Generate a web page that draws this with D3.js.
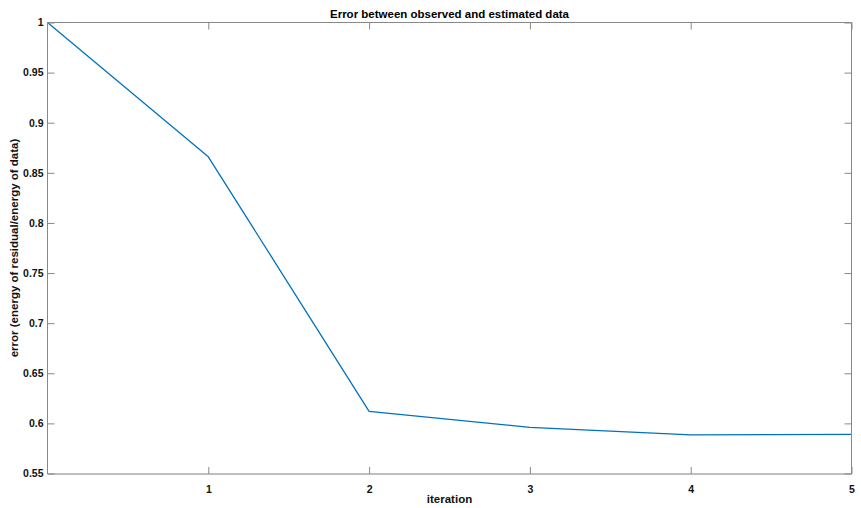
<!DOCTYPE html>
<html>
<head>
<meta charset="utf-8">
<script src="https://cdn.jsdelivr.net/npm/d3@7"></script>
<style>
  html, body { margin: 0; padding: 0; background: #fff; }
  svg { display: block; font-family: "Liberation Sans", Arial, Helvetica, sans-serif; }
</style>
</head>
<body>
<svg id="chart" width="861" height="508"></svg>
<script>
// Relative residual energy after each iteration
const iterations = [0, 1, 2, 3, 4, 5];
const errorValues = [1.0, 0.866, 0.612, 0.596, 0.5885, 0.589];
const xTicks = [1, 2, 3, 4, 5];
const yTicks = [0.55, 0.6, 0.65, 0.7, 0.75, 0.8, 0.85, 0.9, 0.95, 1];

const W = 861, H = 508;
const box = { left: 47.5, right: 851.5, top: 22.5, bottom: 473.5 };
const axisColor = "#888888";
const tickLen = 7;

const svg = d3.select("#chart");

const x = d3.scaleLinear().domain([0, 5]).range([box.left, box.right]);
const y = d3.scaleLinear().domain([0.55, 1]).range([box.bottom, box.top]);

// Data line
const line = d3.line()
  .x((d, i) => x(iterations[i]))
  .y(d => y(d));

svg.append("path")
  .datum(errorValues)
  .attr("fill", "none")
  .attr("stroke", "#0072BD")
  .attr("stroke-width", 1.3)
  .attr("stroke-linejoin", "round")
  .attr("d", line);

// Bottom axis (ticks inward) with labels
const xAxisBottom = d3.axisBottom(x)
  .tickValues(xTicks)
  .tickSize(-tickLen)
  .tickPadding(tickLen + 5)
  .tickFormat(d3.format("d"));

const gxb = svg.append("g")
  .attr("transform", `translate(0,${box.bottom + 0.5})`)
  .call(xAxisBottom);

// Top axis mirror ticks, no labels
const gxt = svg.append("g")
  .attr("transform", `translate(0,${box.top})`)
  .call(d3.axisTop(x).tickValues(xTicks).tickSize(-tickLen).tickFormat(""));

// Left axis with labels
const yAxisLeft = d3.axisLeft(y)
  .tickValues(yTicks)
  .tickSize(-tickLen)
  .tickPadding(4)
  .tickFormat(d => d3.format("")(+d.toFixed(2)));

const gyl = svg.append("g")
  .attr("transform", `translate(${box.left},0)`)
  .call(yAxisLeft);

// Right axis mirror ticks
const gyr = svg.append("g")
  .attr("transform", `translate(${box.right},0)`)
  .call(d3.axisRight(y).tickValues(yTicks).tickSize(-tickLen).tickFormat(""));

[gxb, gxt, gyl, gyr].forEach(g => {
  g.select(".domain").attr("stroke", axisColor).attr("stroke-width", 1);
  g.selectAll(".tick line").attr("stroke", axisColor).attr("stroke-width", 1);
  g.selectAll(".tick text")
    .attr("fill", "#111")
    .style("font-size", "10.5px")
    .style("font-weight", "bold")
    .style("font-family", "'Liberation Sans', Arial, sans-serif");
});
// remove outer end caps of domain paths so the frame is a clean rectangle
[gxb, gxt].forEach(g => g.select(".domain").attr("d", `M${box.left},0H${box.right}`));
[gyl, gyr].forEach(g => g.select(".domain").attr("d", `M0,${box.top}V${box.bottom + 0.5}`));
gxb.select(".domain").attr("stroke", "#a8a8a8").attr("stroke-width", 1.6);

// Title
svg.append("text")
  .attr("x", (box.left + box.right) / 2)
  .attr("y", 17.5)
  .attr("text-anchor", "middle")
  .style("font-size", "11.5px")
  .style("font-weight", "bold")
  .attr("fill", "#000")
  .text("Error between observed and estimated data");

// X label
svg.append("text")
  .attr("x", (box.left + box.right) / 2)
  .attr("y", 503)
  .attr("text-anchor", "middle")
  .style("font-size", "11.5px")
  .style("font-weight", "bold")
  .attr("fill", "#111")
  .text("iteration");

// Y label
svg.append("text")
  .attr("transform", `translate(17.5,${(box.top + box.bottom) / 2}) rotate(-90)`)
  .attr("text-anchor", "middle")
  .style("font-size", "11.5px")
  .style("font-weight", "bold")
  .attr("fill", "#111")
  .text("error (energy of residual/energy of data)");
</script>
</body>
</html>
